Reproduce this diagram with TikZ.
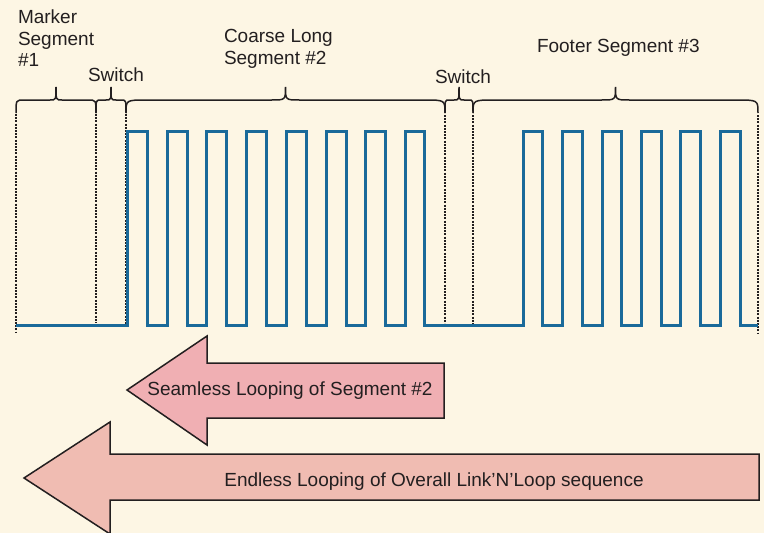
\documentclass[tikz,border=0pt]{standalone}
\usepackage{fontspec}
\setmainfont{Liberation Sans}
\usepackage{tikz}
\usetikzlibrary{calc}

\definecolor{paper}{HTML}{FDF6E4}
\definecolor{ink}{HTML}{231F20}
\definecolor{wave}{HTML}{1A6A9A}
\definecolor{loopa}{HTML}{F0AFB3}
\definecolor{loopb}{HTML}{F0BCB2}

% brace over a segment: {x left}{x right}{end radius}{tip radius}
\newcommand{\segbrace}[4]{%
  \draw[brc] (#1,113) .. controls (#1,100) .. ({#1+#3},100)
    -- ({(#1+#2)/2-#4},100) .. controls ({(#1+#2)/2},100) .. ({(#1+#2)/2},87)
    .. controls ({(#1+#2)/2},100) .. ({(#1+#2)/2+#4},100)
    -- ({#2-#3},100) .. controls (#2,100) .. (#2,113);}

\begin{document}
\begin{tikzpicture}[
  x=1pt, y=-1pt,
  every node/.append style={inner sep=0pt, outer sep=0pt},
  lbl/.style={font=\fontsize{19}{21.5}\selectfont, text=ink, align=left},
  sig/.style={draw=wave, line width=3pt},
  cut/.style={draw=ink, line width=2.8pt, dash pattern=on 2pt off 1.2pt},
  brc/.style={draw=ink, line width=1.5pt},
  blk/.style={draw=ink, line width=1.5pt, line join=miter},
]
\fill[paper] (0,0) rectangle (764,533);
\useasboundingbox (0,0) rectangle (764,533);

%% ─── segment labels (base = last line) ──────────────────────────────────────
\node[lbl, anchor=base west] (mk)  at (18, 66.5) {Marker\\Segment\\\#1};
\node[lbl, anchor=base west] (sw1) at (88, 81.5) {Switch};
\node[lbl, anchor=base west] (cl)  at (224, 64)  {Coarse Long\\Segment \#2};
\node[lbl, anchor=base west] (sw2) at (435, 83)  {Switch};
\node[lbl, anchor=base west] (ft)  at (537, 52)  {Footer Segment \#3};

%% ─── braces ─────────────────────────────────────────────────────────────────
\segbrace{16}{96}{8}{6}
\segbrace{96}{126}{5}{5}
\segbrace{126}{445}{21}{14}
\segbrace{445}{473}{4}{5}
\segbrace{473}{758}{22}{14}

%% ─── segment boundaries ─────────────────────────────────────────────────────
\draw[cut] (16, 114) -- (16, 332);
\draw[cut] (96, 114) -- (96, 323);
\draw[cut] (126, 114) -- (126, 325);
\draw[cut] (445, 115) -- (445, 323);
\draw[cut] (473, 115) -- (473, 325);
\draw[cut] (758, 115) -- (758, 333);

%% ─── waveform ───────────────────────────────────────────────────────────────
\draw[sig] (16,325) -- (127.5,325)
  -- (127.5,131) -- (147.5,131) -- (147.5,325) -- (167,325)
  -- (167,131) -- (187,131) -- (187,325) -- (206.5,325)
  -- (206.5,131) -- (226.5,131) -- (226.5,325) -- (246,325)
  -- (246,131) -- (266,131) -- (266,325) -- (286,325)
  -- (286,131) -- (306,131) -- (306,325) -- (326,325)
  -- (326,131) -- (346,131) -- (346,325) -- (365.5,325)
  -- (365.5,131) -- (385.5,131) -- (385.5,325) -- (405,325)
  -- (405,131) -- (424.5,131) -- (424.5,325) -- (523,325)
  -- (523,131) -- (542.5,131) -- (542.5,325) -- (562.5,325)
  -- (562.5,131) -- (582,131) -- (582,325) -- (602,325)
  -- (602,131) -- (621.5,131) -- (621.5,325) -- (641.5,325)
  -- (641.5,131) -- (661,131) -- (661,325) -- (680.5,325)
  -- (680.5,131) -- (700,131) -- (700,325) -- (720,325)
  -- (720,131) -- (740,131) -- (740,325) -- (758,325);

%% ─── looping arrows ─────────────────────────────────────────────────────────
\draw[blk, fill=loopa] (127,390) -- (207,336) -- (207,363) -- (444,363)
  -- (444,418) -- (207,418) -- (207,445) -- cycle;
\node[lbl, anchor=base] (seam) at (290, 395.5) {Seamless Looping of Segment \#2};

\draw[blk, fill=loopb] (24,478) -- (110,422) -- (110,454) -- (759,454)
  -- (759,500) -- (110,500) -- (110,534) -- cycle;
\node[lbl, anchor=base] (endl) at (434, 486) {Endless Looping of Overall Link’N’Loop sequence};

\end{tikzpicture}
\end{document}
